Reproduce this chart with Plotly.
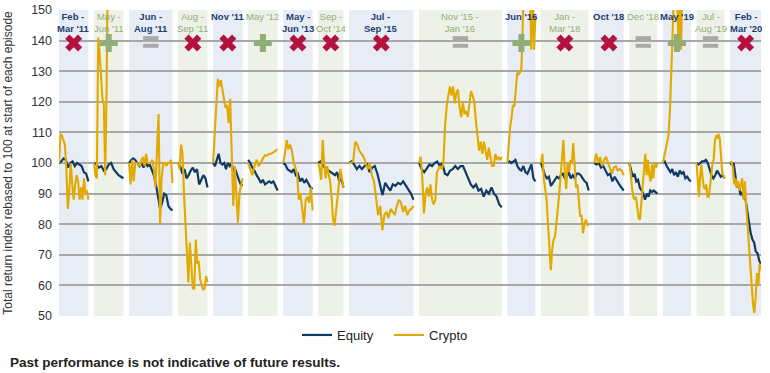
import plotly.graph_objects as go

# ---------------- data ----------------
episode_top = ["Feb -", "May -", "Jun -", "Aug -", "Nov '11", "May '12", "May -", "Sep -", "Jul -",
               "Nov '15 -", "Jun '16", "Jan -", "Oct '18", "Dec '18", "May '19", "Jul -", "Feb -"]
episode_bottom = ["Mar '11", "Jun '11", "Aug '11", "Sep '11", "", "", "Jun '13", "Oct '14", "Sep '15",
                  "Jan '16", "", "Mar '18", "", "", "", "Aug '19", "Mar '20"]
episode_days = [21, 21, 31, 21, 21, 21, 21, 18, 46, 59, 20, 34, 21, 20, 20, 20, 22]
episode_outcome = ["x", "+", "=", "x", "x", "+", "x", "x", "x", "=", "+", "x", "x", "=", "+", "=", "x"]
GAP_DAYS = 4

eq_01 = [100, 100.5, 101.5, 101, 98.5, 100, 100.5, 99, 100, 99.5, 99, 97, 96.5, 94]
eq_02 = [100, 99.5, 98.5, 99, 97.5, 98, 99.5, 100, 98, 97, 96, 95.5, 95]
eq_03 = [100, 101, 101.5, 101, 100, 99, 100, 98.5, 100, 99, 99.5, 98, 96, 93, 89, 85, 87, 90, 89.5, 86, 85, 84.5]
eq_04 = [100, 99, 96.5, 98, 95, 96, 97.5, 98.5, 97, 98, 93, 94.5, 96, 95, 92]
eq_05 = [100, 99, 101, 103, 100, 99.5, 100, 98, 100, 99, 100, 97.5, 98, 96, 94.5, 93, 92.5]
eq_06 = [101, 100, 98.5, 97.5, 96, 95, 93.5, 94.5, 93, 93.5, 94, 93.5, 94, 92.5, 91]
eq_07 = [100, 99.5, 98, 97.5, 97, 98, 96, 96.5, 94, 95, 93.5, 94.5, 93, 92, 91.5]
eq_08 = [100, 100.5, 99.5, 98.5, 98, 97.5, 97, 96.5, 96, 97, 94, 95, 92]
eq_09 = [100, 100.5, 99.5, 98, 99, 98, 99, 99.5, 97, 98.5, 99, 96.5, 93, 89.5, 93.5, 92, 91, 93, 92.5,
         93.5, 93, 94, 92.5, 91.5, 90, 88]
eq_10 = [100, 98, 97, 98.5, 99.5, 99, 100, 100.5, 99, 100, 96.5, 96, 97.5, 98, 99, 98, 99, 99, 97, 95, 93,
         92, 93, 91, 91.5, 89, 91, 90, 92, 90, 89, 86.5, 85.5]
eq_11 = [100, 100.5, 100, 100.5, 101, 99, 98, 97.5, 99, 97, 96.5, 98, 99.5, 95, 94]
eq_12 = [100, 98, 96, 95, 95.5, 92.5, 93.5, 94.5, 95.5, 95, 96, 96.5, 95, 95.5, 97, 95, 96, 95, 96.5, 96.5,
         96, 95, 94, 93.5, 91]
eq_13 = [100, 99.5, 100, 98.5, 99, 97.5, 96, 96.5, 94, 95.5, 94, 93, 92, 91]
eq_14 = [100, 98, 95.5, 96.5, 94, 94.5, 92, 91, 90, 88, 90, 89, 91, 90.5, 91, 90.5, 90]
eq_15 = [100, 100.5, 99, 98, 97, 98, 96, 97, 95.5, 97.5, 96.5, 97, 95, 95.5, 94.5, 94]
eq_16 = [100, 99.5, 100, 100.5, 100.5, 101, 100, 98, 96, 95, 96, 97.5, 96.5, 95.5, 96, 95]
eq_17 = [100, 99.5, 100, 96, 92, 93, 89.5, 90.5, 88.5, 88, 84, 80, 77, 75, 74, 71, 70.5, 68, 67]

cr_01 = [100, 109.5, 109, 107, 106, 98, 85, 91, 100, 93, 88, 93, 96, 94, 88, 92, 88, 95, 90, 91, 88]
cr_02 = [100, 96, 95, 141, 136, 128, 121, 119, 96, 125, 160, 220, 300, 350, 420, 500, 480, 520, 600, 550,
         520, 560]
cr_03 = [100, 93, 101, 94, 100, 100, 99.5, 99, 101, 102, 99, 103, 100, 100, 100, 101, 98, 92, 105, 116, 80,
         95, 100, 100, 99, 100, 100, 101, 93.5]
cr_04 = [100, 98, 106, 103, 90, 80, 73, 61, 74, 68, 59, 59, 75, 67, 68, 62, 60, 58.5, 59, 63, 61]
cr_05 = [100, 109, 121, 127.5, 125, 127, 124, 121, 118, 119, 113, 121, 100, 86, 99, 90, 80.5, 90, 93, 95]
cr_06 = [100, 98, 96, 99, 101, 99, 100, 101.5, 102.5, 102.5, 103, 103, 103.5, 104, 104.5]
cr_07 = [100, 103, 107.5, 104.5, 106, 104, 100.5, 98.5, 96.5, 88, 90, 85, 80, 88, 89, 87, 92, 84.5]
cr_08 = [100, 98, 94.5, 107.5, 100, 95, 99, 96.5, 94, 89, 81.5, 79.5, 84.5, 89, 93, 98, 95, 92]
cr_09 = [100, 100, 100.5, 107, 106, 104, 103, 102, 100, 98, 100, 96, 94, 89, 83, 86, 78, 83, 84, 82, 85, 84,
         83, 86, 88, 87, 84, 86, 83, 84.5, 85, 86]
cr_10 = [100, 102, 95, 83.5, 90, 92, 89, 93, 88, 86.5, 88, 97, 98, 99, 98, 100, 112, 118.5, 122, 125, 122,
         125, 119.5, 123, 124, 118, 115, 120, 116, 117, 115, 120, 123.5, 122, 120, 114, 108, 104, 107, 103,
         107, 104, 101, 105, 102, 99, 99, 103, 101, 102, 101, 102]
cr_11 = [100, 108, 112, 115, 119, 118.5, 125, 129.5, 129, 129.5, 131, 150, 170, 175, 168, 165, 160, 137, 158,
         137, 148]
cr_12 = [100, 103, 95, 92, 88, 80, 70, 65, 72, 75, 76, 82, 85, 90, 96, 101, 107.5, 97, 91.5, 100, 97, 101,
         100, 106.5, 100, 92, 93, 88, 82.5, 83, 77, 80, 81.5, 80, 79.5]
cr_13 = [100, 103, 100, 102, 99, 101, 102, 100, 98, 96.5, 98.5, 99, 97.5, 98, 97.5, 96]
cr_14 = [100, 97, 92, 89, 88, 89, 85.5, 82, 81.5, 87, 93, 98, 103, 96, 101, 96, 94, 99.5, 95, 100, 98.5, 100]
cr_15 = [100, 102, 104, 106, 109, 117, 135, 155, 165, 170, 160, 137, 160, 137, 165, 175, 180, 172, 170, 175,
         172]
cr_16 = [100, 95, 89, 96, 99.5, 95, 92, 91.5, 93, 89, 89, 92, 96, 99.5, 101, 107, 109, 108, 109.5, 108, 103,
         97, 96, 95]
cr_17 = [100, 100.5, 98.5, 93, 95, 92, 94, 91, 93, 95, 88, 94, 86, 80, 73, 66, 59, 54, 51, 56, 64, 60, 67, 65]

y_ticks = [50, 60, 70, 80, 90, 100, 110, 120, 130, 140, 150]

equity_eps = [eq_01, eq_02, eq_03, eq_04, eq_05, eq_06, eq_07, eq_08, eq_09, eq_10, eq_11, eq_12, eq_13,
              eq_14, eq_15, eq_16, eq_17]
crypto_eps = [cr_01, cr_02, cr_03, cr_04, cr_05, cr_06, cr_07, cr_08, cr_09, cr_10, cr_11, cr_12, cr_13,
              cr_14, cr_15, cr_16, cr_17]

# ---------------- styles ----------------
NAVY = "#0f3a64"
GOLD = "#e2a900"
BLUE_BAND = "#e8edf5"
GREEN_BAND = "#eef1e7"
BLUE_TXT = "#1c3f6e"
GREEN_TXT = "#8fae78"
RED_ICON = "#b3123f"
GREEN_ICON = "#8fae78"
GREY_ICON = "#a9a9a9"
FONT = "Liberation Sans, Arial, sans-serif"
ICON_Y = 139.2          # vertical placement of outcome icons (style)
EQ_BARS_Y = (140.8, 138.3)

starts = []
pos = 0
for d in episode_days:
    starts.append(pos)
    pos += d + GAP_DAYS
x_max = pos - GAP_DAYS
centers = [s + d / 2 for s, d in zip(starts, episode_days)]


def series_xy(lists):
    xs, ys = [], []
    for s, d, vals in zip(starts, episode_days, lists):
        n = len(vals)
        for i, v in enumerate(vals):
            xs.append(s + d * i / (n - 1))
            ys.append(v)
        xs.append(None)
        ys.append(None)
    return xs, ys


fig = go.Figure()

shapes = []
annotations = []
for i, (s, d) in enumerate(zip(starts, episode_days)):
    blue = i % 2 == 0
    shapes.append(dict(type="rect", xref="x", yref="paper", x0=s, x1=s + d, y0=0, y1=1,
                       fillcolor=BLUE_BAND if blue else GREEN_BAND, line=dict(width=0), layer="below"))
    col = BLUE_TXT if blue else GREEN_TXT
    lines = [episode_top[i]] + ([episode_bottom[i]] if episode_bottom[i] else [])
    if blue:
        lines = [f"<b>{t}</b>" for t in lines]
    annotations.append(dict(x=centers[i], y=1, xref="x", yref="paper", text="<br>".join(lines),
                            showarrow=False, yanchor="top", yshift=0, borderpad=0,
                            font=dict(size=9.5, color=col, family=FONT)))

ex, ey = series_xy(equity_eps)
cx, cy = series_xy(crypto_eps)
fig.add_trace(go.Scatter(x=ex, y=ey, mode="lines", name="Equity", line=dict(color=NAVY, width=2.2)))
fig.add_trace(go.Scatter(x=cx, y=cy, mode="lines", name="Crypto", line=dict(color=GOLD, width=2.1)))

# outcome icons
x_pts = [c for c, o in zip(centers, episode_outcome) if o == "x"]
p_pts = [c for c, o in zip(centers, episode_outcome) if o == "+"]
e_pts = [c for c, o in zip(centers, episode_outcome) if o == "="]
fig.add_trace(go.Scatter(x=x_pts, y=[ICON_Y] * len(x_pts), mode="markers", showlegend=False,
                         hoverinfo="skip",
                         marker=dict(symbol="x", size=15, color=RED_ICON, line=dict(width=0))))
fig.add_trace(go.Scatter(x=p_pts, y=[ICON_Y] * len(p_pts), mode="markers", showlegend=False,
                         hoverinfo="skip",
                         marker=dict(symbol="cross", size=15, color=GREEN_ICON, line=dict(width=0))))
for by in EQ_BARS_Y:
    fig.add_trace(go.Scatter(x=e_pts, y=[by] * len(e_pts), mode="markers", showlegend=False,
                             hoverinfo="skip",
                             marker=dict(symbol="line-ew", size=11, color=GREY_ICON,
                                         line=dict(width=4, color=GREY_ICON))))

annotations.append(dict(x=(8 - 59) / 702, y=-(362 - 316) / 306, xref="paper", yref="paper",
                        xanchor="left", yanchor="middle",
                        text="<b>Past performance is not indicative of future results.</b>", showarrow=False,
                        font=dict(size=13.5, color="#222222", family=FONT)))

fig.update_layout(
    width=770, height=373,
    margin=dict(l=59, r=9, t=10, b=57, autoexpand=False),
    plot_bgcolor="white", paper_bgcolor="white",
    font=dict(family=FONT, color="#333333"),
    shapes=shapes, annotations=annotations,
    showlegend=True,
    legend=dict(orientation="h", x=(297 - 59) / 702, xanchor="left", y=-(335 - 316) / 306,
                yanchor="middle", font=dict(size=13, color="#222222"), bgcolor="rgba(0,0,0,0)",
                entrywidth=47, itemwidth=30),
    xaxis=dict(range=[0, x_max], showgrid=False, zeroline=False, showticklabels=False, showline=False,
               ticks=""),
    yaxis=dict(range=[50, 150], tickvals=y_ticks, showgrid=True, gridcolor="#a8a8a8", gridwidth=1.5,
               zeroline=False, showline=False, ticks="", tickfont=dict(size=12.5, color="#333333"),
               ticklabelstandoff=6, automargin=False,
               title=dict(text="Total return index rebased to 100 at start of each episode",
                          font=dict(size=12, color="#333333"))),
)

fig.write_html("out.html", config={"displayModeBar": False},
               post_script="document.body.style.margin='0';")
